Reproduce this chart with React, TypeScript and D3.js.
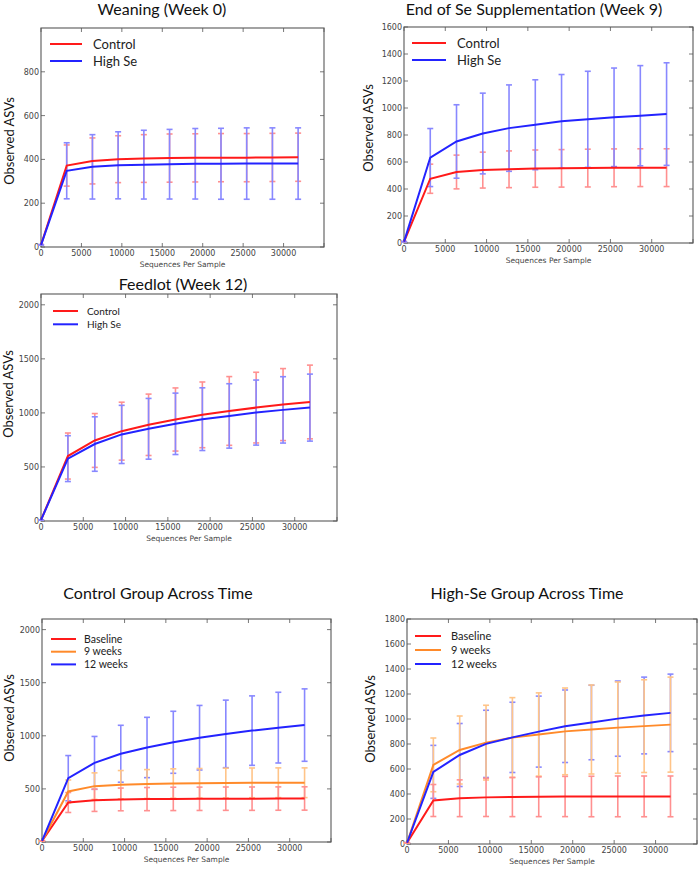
import React from 'react';
import * as d3 from 'd3';

// ---------- data ----------
const depths = [10, 3180, 6360, 9540, 12720, 15900, 19080, 22260, 25440, 28620, 31800];
const xTicks = [0, 5000, 10000, 15000, 20000, 25000, 30000];

// Weaning (week 0)
const wk0ControlMean = [10, 372, 393, 401, 404, 406, 407, 408, 408, 409, 410];
const wk0ControlSd = [1, 94, 105, 107, 109, 110, 110, 110, 110, 110, 110];
const wk0HighSeMean = [10, 348, 366, 373, 376, 378, 380, 380, 381, 381, 381];
const wk0HighSeSd = [1, 128, 147, 153, 157, 159, 161, 162, 163, 163, 163];

// End of Se supplementation (week 9)
const wk9ControlMean = [10, 476, 526, 540, 546, 551, 553, 555, 557, 558, 558];
const wk9ControlSd = [1, 108, 125, 133, 136, 138, 139, 140, 140, 140, 140];
const wk9HighSeMean = [10, 633, 752, 811, 851, 876, 901, 916, 931, 943, 955];
const wk9HighSeSd = [1, 215, 272, 299, 320, 333, 347, 356, 365, 371, 380];

// Feedlot (week 12)
const wk12ControlMean = [10, 601, 745, 831, 890, 939, 982, 1018, 1049, 1077, 1101];
const wk12ControlSd = [1, 213, 249, 268, 284, 292, 304, 318, 327, 333, 341];
const wk12HighSeMean = [10, 577, 712, 801, 853, 899, 942, 972, 1003, 1028, 1049];
const wk12HighSeSd = [1, 212, 252, 269, 281, 284, 290, 298, 301, 307, 310];

const RED = '#ff1a1a';
const BLUE = '#2323ff';
const ORANGE = '#ff8a2a';
const RED_BAR = '#ff9090';
const BLUE_BAR = '#8888ff';
const ORANGE_BAR = '#ffc488';

type Series = { name: string; color: string; bar: string; mean: number[]; sd: number[] };
type Cfg = {
  title: string;
  box: [number, number, number, number];
  yMax: number;
  yTicks: number[];
  titleX: number;
  titleY: number;
  legend: { x1: number; x2: number; y: number; dy: number; tx: number; size: number };
  ylabelX: number;
  ylabelY: number;
  barsReversed: boolean;
  series: Series[];
};

const panels: Cfg[] = [
  {
    title: 'Weaning (Week 0)',
    box: [41, 28, 324, 247],
    yMax: 1000,
    yTicks: [0, 200, 400, 600, 800],
    titleX: 162,
    titleY: 15,
    legend: { x1: 50, x2: 82, y: 44, dy: 17, tx: 93, size: 13 },
    ylabelX: 10,
    ylabelY: 141,
    barsReversed: false,
    series: [
      { name: 'Control', color: RED, bar: RED_BAR, mean: wk0ControlMean, sd: wk0ControlSd },
      { name: 'High Se', color: BLUE, bar: BLUE_BAR, mean: wk0HighSeMean, sd: wk0HighSeSd },
    ],
  },
  {
    title: 'End of Se Supplementation (Week 9)',
    box: [404, 27, 693, 243],
    yMax: 1600,
    yTicks: [0, 200, 400, 600, 800, 1000, 1200, 1400, 1600],
    titleX: 534,
    titleY: 15,
    legend: { x1: 412, x2: 446, y: 43, dy: 17, tx: 457, size: 13 },
    ylabelX: 369,
    ylabelY: 128,
    barsReversed: false,
    series: [
      { name: 'Control', color: RED, bar: RED_BAR, mean: wk9ControlMean, sd: wk9ControlSd },
      { name: 'High Se', color: BLUE, bar: BLUE_BAR, mean: wk9HighSeMean, sd: wk9HighSeSd },
    ],
  },
  {
    title: 'Feedlot (Week 12)',
    box: [41, 294, 337, 521],
    yMax: 2100,
    yTicks: [0, 500, 1000, 1500, 2000],
    titleX: 183,
    titleY: 290,
    legend: { x1: 53, x2: 78, y: 311, dy: 13.3, tx: 87, size: 10 },
    ylabelX: 9,
    ylabelY: 394,
    barsReversed: false,
    series: [
      { name: 'Control', color: RED, bar: RED_BAR, mean: wk12ControlMean, sd: wk12ControlSd },
      { name: 'High Se', color: BLUE, bar: BLUE_BAR, mean: wk12HighSeMean, sd: wk12HighSeSd },
    ],
  },
  {
    title: 'Control Group Across Time',
    box: [42, 619, 331, 842],
    yMax: 2100,
    yTicks: [0, 500, 1000, 1500, 2000],
    titleX: 158,
    titleY: 599,
    legend: { x1: 51, x2: 76, y: 639, dy: 12.7, tx: 84, size: 10.5 },
    ylabelX: 10,
    ylabelY: 718,
    barsReversed: true,
    series: [
      { name: 'Baseline', color: RED, bar: RED_BAR, mean: wk0ControlMean, sd: wk0ControlSd },
      { name: '9 weeks', color: ORANGE, bar: ORANGE_BAR, mean: wk9ControlMean, sd: wk9ControlSd },
      { name: '12 weeks', color: BLUE, bar: BLUE_BAR, mean: wk12ControlMean, sd: wk12ControlSd },
    ],
  },
  {
    title: 'High-Se Group Across Time',
    box: [407, 619, 697, 844],
    yMax: 1800,
    yTicks: [0, 200, 400, 600, 800, 1000, 1200, 1400, 1600, 1800],
    titleX: 527,
    titleY: 599,
    legend: { x1: 415, x2: 441, y: 636, dy: 14, tx: 451, size: 11 },
    ylabelX: 371,
    ylabelY: 719,
    barsReversed: true,
    series: [
      { name: 'Baseline', color: RED, bar: RED_BAR, mean: wk0HighSeMean, sd: wk0HighSeSd },
      { name: '9 weeks', color: ORANGE, bar: ORANGE_BAR, mean: wk9HighSeMean, sd: wk9HighSeSd },
      { name: '12 weeks', color: BLUE, bar: BLUE_BAR, mean: wk12HighSeMean, sd: wk12HighSeSd },
    ],
  },
];

const TITLE_FONT = 'Lato, "Open Sans", sans-serif';
const TICK_FONT = '"DejaVu Sans", sans-serif';

function Panel({ cfg }: { cfg: Cfg }) {
  const [l, t, r, b] = cfg.box;
  const x = d3.scaleLinear().domain([0, 35000]).range([l, r]);
  const y = d3.scaleLinear().domain([0, cfg.yMax]).range([b, t]);
  const line = d3
    .line<number>()
    .x((_, i) => x(depths[i]))
    .y((d) => y(d));
  const cap = 3;
  const tickLen = 4;
  const allXTicks = [...xTicks, 35000];
  const barSeries = cfg.barsReversed ? [...cfg.series].reverse() : cfg.series;
  return (
    <g>
      <rect x={l} y={t} width={r - l} height={b - t} fill="#fff" stroke="#666" strokeWidth={1.2} />
      {allXTicks.map((v) => (
        <g key={'xt' + v} stroke="#555" strokeWidth={0.8}>
          <line x1={x(v)} x2={x(v)} y1={b} y2={b - tickLen} />
          <line x1={x(v)} x2={x(v)} y1={t} y2={t + tickLen} />
        </g>
      ))}
      {cfg.yTicks.map((v) => (
        <g key={'yt' + v} stroke="#555" strokeWidth={0.8}>
          <line x1={l} x2={l + tickLen} y1={y(v)} y2={y(v)} />
          <line x1={r} x2={r - tickLen} y1={y(v)} y2={y(v)} />
        </g>
      ))}
      {xTicks.map((v) => (
        <text key={'xl' + v} x={x(v)} y={b + 9} textAnchor="middle" fontFamily={TICK_FONT} fontSize={8} fill="#444">
          {v}
        </text>
      ))}
      {cfg.yTicks.map((v) => (
        <text key={'yl' + v} x={l - 2} y={y(v) + 3} textAnchor="end" fontFamily={TICK_FONT} fontSize={8} fill="#444">
          {v}
        </text>
      ))}
      <text x={(l + r) / 2} y={b + 20} textAnchor="middle" fontFamily={TICK_FONT} fontSize={7.5} fill="#444">
        Sequences Per Sample
      </text>
      <text
        transform={`translate(${cfg.ylabelX + 4},${cfg.ylabelY}) rotate(-90)`}
        textAnchor="middle"
        fontFamily={TITLE_FONT}
        fontSize={13}
        fill="#111"
      >
        Observed ASVs
      </text>
      <text x={cfg.titleX} y={cfg.titleY} textAnchor="middle" fontFamily={TITLE_FONT} fontSize={16} fill="#111">
        {cfg.title}
      </text>
      {/* error bars */}
      {barSeries.map((s) => (
        <g key={'eb' + s.name} stroke={s.bar} strokeWidth={1.6}>
          {s.mean.map((m, i) => {
            const cx = x(depths[i]);
            const y1 = y(m - s.sd[i]);
            const y2 = y(m + s.sd[i]);
            return (
              <g key={i}>
                <line x1={cx} x2={cx} y1={y1} y2={y2} />
                <line x1={cx - cap} x2={cx + cap} y1={y1} y2={y1} />
                <line x1={cx - cap} x2={cx + cap} y1={y2} y2={y2} />
              </g>
            );
          })}
        </g>
      ))}
      {/* mean lines */}
      {cfg.series.map((s) => (
        <path key={'ln' + s.name} d={line(s.mean) || ''} fill="none" stroke={s.color} strokeWidth={2} />
      ))}
      {/* legend */}
      {cfg.series.map((s, i) => (
        <g key={'lg' + s.name}>
          <line
            x1={cfg.legend.x1}
            x2={cfg.legend.x2}
            y1={cfg.legend.y + i * cfg.legend.dy}
            y2={cfg.legend.y + i * cfg.legend.dy}
            stroke={s.color}
            strokeWidth={2}
          />
          <text
            x={cfg.legend.tx}
            y={cfg.legend.y + i * cfg.legend.dy + cfg.legend.size * 0.36}
            fontFamily={TITLE_FONT}
            fontSize={cfg.legend.size}
            fill="#222"
          >
            {s.name}
          </text>
        </g>
      ))}
    </g>
  );
}

export default function App() {
  return (
    <svg
      width={698}
      height={869}
      viewBox="0 0 698 869"
      style={{ position: 'absolute', left: 0, top: 0, background: '#fff' }}
    >
      <rect x={0} y={0} width={698} height={869} fill="#fff" />
      {panels.map((p) => (
        <Panel key={p.title} cfg={p} />
      ))}
    </svg>
  );
}
